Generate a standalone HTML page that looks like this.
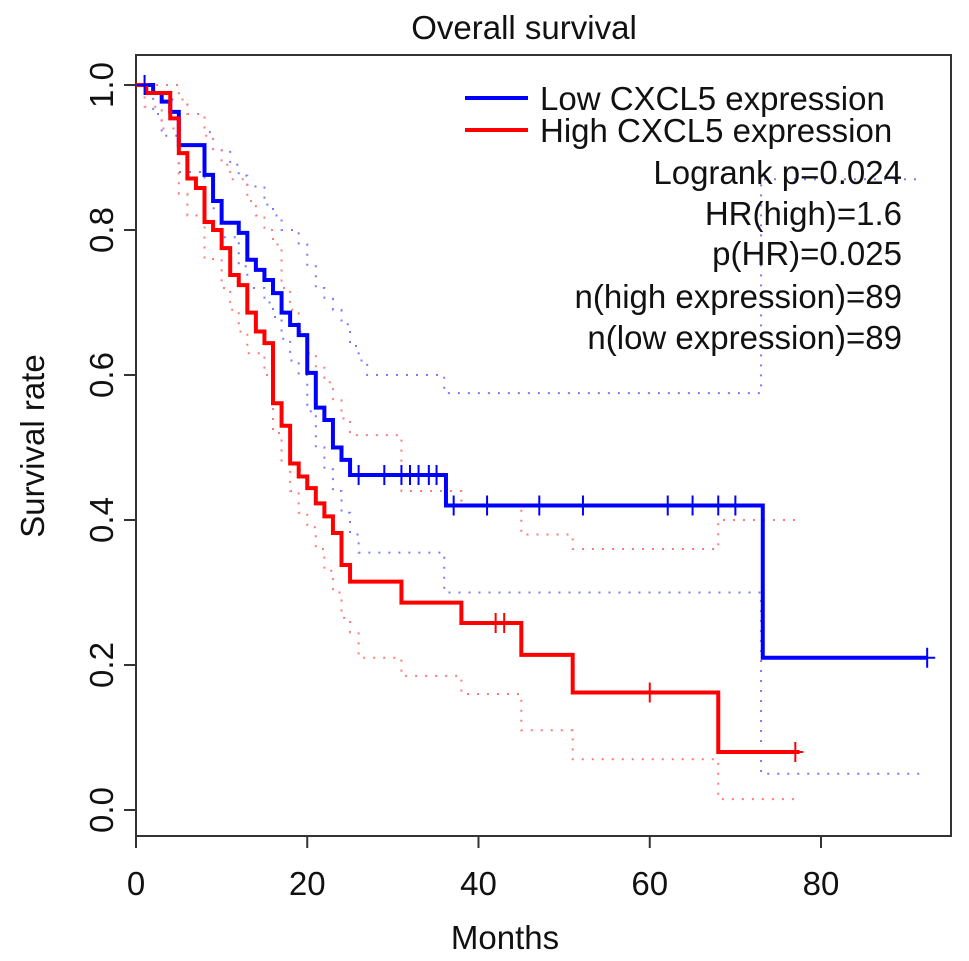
<!DOCTYPE html>
<html><head><meta charset="utf-8">
<style>
html,body{margin:0;padding:0;background:#fff;}
svg{display:block;font-family:"Liberation Sans",Arial,sans-serif;}
</style></head>
<body>
<svg id="chart" width="969" height="961" viewBox="0 0 969 961" xmlns="http://www.w3.org/2000/svg">
<rect x="0" y="0" width="969" height="961" fill="#fff"/>
<text x="524" y="39" font-size="33" text-anchor="middle" fill="#111">Overall survival</text>
<rect x="136" y="55" width="815" height="781" fill="none" stroke="#333" stroke-width="2"/>
<g id="axes"></g>
<g id="ci"></g>
<g id="curves"></g>
<g>
<line x1="465" y1="98" x2="528" y2="98" stroke="#0000ff" stroke-width="4"/>
<text x="540" y="110" font-size="33" fill="#111">Low CXCL5 expression</text>
<line x1="465" y1="130" x2="528" y2="130" stroke="#ff0000" stroke-width="4"/>
<text x="540" y="142" font-size="33" fill="#111">High CXCL5 expression</text>
</g>
<g font-size="33" fill="#111" text-anchor="end">
<text x="902" y="184">Logrank p=0.024</text>
<text x="902" y="225">HR(high)=1.6</text>
<text x="902" y="265">p(HR)=0.025</text>
<text x="902" y="308">n(high expression)=89</text>
<text x="902" y="349">n(low expression)=89</text>
</g>
<text x="505" y="949" font-size="33" text-anchor="middle" fill="#111">Months</text>
<text transform="translate(44,446) rotate(-90)" font-size="33" text-anchor="middle" fill="#111">Survival rate</text>
</svg>
<script>
const xTicks=[0,20,40,60,80];
const yTicks=[0.0,0.2,0.4,0.6,0.8,1.0];
const yTickLabels=["0.0","0.2","0.4","0.6","0.8","1.0"];
const lowTimes=[0,2,3,4,5,8,9,10,12,13,14,15,16,17,18,19,20,21,22,23,24,25,36.2,73.2];
const lowSurv=[1.0,0.989,0.977,0.963,0.917,0.876,0.84,0.81,0.796,0.759,0.745,0.731,0.713,0.686,0.669,0.655,0.603,0.555,0.538,0.50,0.483,0.462,0.42,0.21];
const lowEnd=92.4;
const lowCensor=[1,26,29,31,32,33,34.2,35.1,37.1,41,47.1,52.2,62.1,65,68,70,92.4];
const highTimes=[0,1.2,4,5,6,7,8,9,10,11,12,13,14,15,16,17,18,19,20,21,22,23,24,25,31,38,45,51,68];
const highSurv=[1.0,0.989,0.954,0.906,0.871,0.858,0.811,0.80,0.775,0.738,0.724,0.686,0.66,0.644,0.561,0.53,0.478,0.46,0.444,0.423,0.405,0.382,0.338,0.315,0.286,0.258,0.214,0.162,0.08];
const highEnd=77.5;
const highCensor=[42,43,60,77];
const lowUpperT=[0,4,6,8,9,11,12,13,15,16,17,19,20,21,22,23,24,25,26,27,36,73];
const lowUpperV=[1,0.98,0.96,0.935,0.91,0.89,0.875,0.86,0.835,0.82,0.80,0.78,0.75,0.72,0.705,0.69,0.67,0.64,0.62,0.60,0.575,0.87];
const lowLowerT=[0,2,3,5,8,10,12,13,15,16,17,18,19,20,21,22,23,24,25,26,36,73];
const lowLowerV=[1,0.96,0.93,0.88,0.83,0.79,0.75,0.72,0.70,0.68,0.65,0.62,0.60,0.55,0.50,0.47,0.44,0.41,0.38,0.355,0.30,0.05];
const highUpperT=[0,5,6,8,9,10,11,13,14,15,16,17,18,19,20,21,22,23,24,25,31,38,45,51,68];
const highUpperV=[1,0.98,0.96,0.93,0.91,0.89,0.87,0.84,0.82,0.80,0.78,0.72,0.69,0.66,0.63,0.61,0.59,0.565,0.54,0.517,0.44,0.42,0.38,0.36,0.40];
const highLowerT=[0,1,3,5,6,8,10,11,12,13,15,16,17,18,19,20,21,22,23,24,25,26,31,38,45,51,68];
const highLowerV=[1,0.97,0.94,0.85,0.82,0.76,0.72,0.69,0.66,0.63,0.60,0.52,0.48,0.44,0.41,0.39,0.36,0.33,0.30,0.265,0.245,0.21,0.185,0.16,0.11,0.07,0.015];

const NS="http://www.w3.org/2000/svg";
function X(m){return 136+m*8.5625;}
function Y(v){return 810-v*725;}
function mk(tag,attrs,parent){const e=document.createElementNS(NS,tag);for(const k in attrs)e.setAttribute(k,attrs[k]);parent.appendChild(e);return e;}
function stepPath(ts,vs,end){let d="M"+X(ts[0])+","+Y(vs[0]);for(let i=1;i<ts.length;i++){d+=" H"+X(ts[i])+" V"+Y(vs[i]);}d+=" H"+X(end);return d;}
function survAt(ts,vs,t){let v=vs[0];for(let i=0;i<ts.length;i++){if(ts[i]<=t)v=vs[i];}return v;}

const axes=document.getElementById('axes');
xTicks.forEach(t=>{
  const l=mk('line',{x1:X(t),y1:836,x2:X(t),y2:848,stroke:'#333','stroke-width':2},axes);
  
  
  const tx=mk('text',{x:X(t),y:895,'font-size':33,'text-anchor':'middle',fill:'#111'},axes);
  tx.textContent=t;
  
  
});
yTicks.forEach((v,i)=>{
  const l=mk('line',{x1:124,y1:Y(v),x2:136,y2:Y(v),stroke:'#333','stroke-width':2},axes);
  
  
  const tx=mk('text',{transform:'translate(113,'+Y(v)+') rotate(-90)','font-size':33,'text-anchor':'middle',fill:'#111'},axes);
  tx.textContent=yTickLabels[i];
  
  
});

const ci=document.getElementById('ci');
[[lowUpperT,lowUpperV,92,'#7a7aff','low-ci-upper'],[lowLowerT,lowLowerV,92,'#7a7aff','low-ci-lower'],[highUpperT,highUpperV,77,'#ff7a7a','high-ci-upper'],[highLowerT,highLowerV,77,'#ff7a7a','high-ci-lower']].forEach(s=>{
  const p=mk('path',{d:stepPath(s[0],s[1],s[2]),fill:'none',stroke:s[3],'stroke-width':2,'stroke-dasharray':'2 8'},ci);
  
  
});

const cv=document.getElementById('curves');
const pl=mk('path',{d:stepPath(lowTimes,lowSurv,lowEnd),fill:'none',stroke:'#0000ff','stroke-width':4},cv);


const ph=mk('path',{d:stepPath(highTimes,highSurv,highEnd),fill:'none',stroke:'#ff0000','stroke-width':4},cv);


lowCensor.forEach(t=>{
  const y=Y(survAt(lowTimes,lowSurv,t));
  const c=mk('path',{d:'M'+X(t)+','+(y-10)+' V'+(y+10)+' M'+(X(t)-8)+','+y+' H'+(X(t)+8),stroke:'#0000ff','stroke-width':2},cv);
  
  
});
highCensor.forEach(t=>{
  const y=Y(survAt(highTimes,highSurv,t));
  const c=mk('path',{d:'M'+X(t)+','+(y-10)+' V'+(y+10)+' M'+(X(t)-8)+','+y+' H'+(X(t)+8),stroke:'#ff0000','stroke-width':2},cv);
  
  
});
</script>
</body></html>
